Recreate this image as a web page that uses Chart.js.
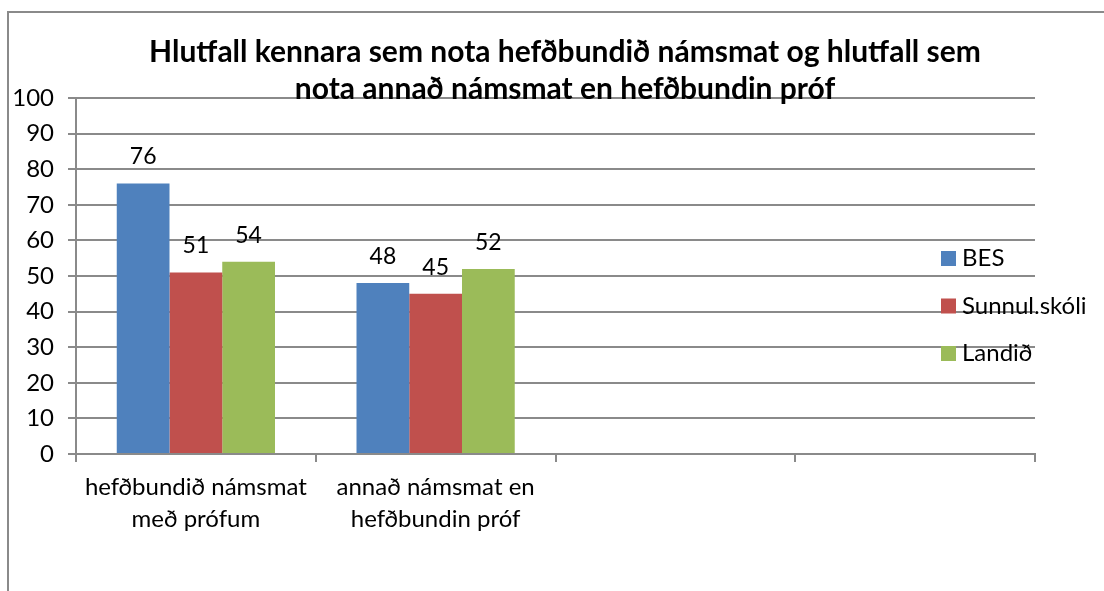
<!DOCTYPE html>
<html>
<head>
<meta charset="utf-8">
<script src="https://cdn.jsdelivr.net/npm/chart.js@4.4.1/dist/chart.umd.min.js"></script>
<style>
  html, body { margin: 0; padding: 0; background: #fff; }
  #wrap { position: relative; width: 1104px; height: 591px; }
  #frame { position: absolute; left: 7px; top: 11px; right: -2px; bottom: -2px; border: 2px solid #8a8a8a; }
  canvas { position: absolute; left: 0; top: 0; }
</style>
</head>
<body>
<div id="wrap">
  <div id="frame"></div>
  <canvas id="chart" width="1104" height="591"></canvas>
</div>
<script>
// Gögn
const categories = [
    ['hefðbundið námsmat', 'með prófum'],
    ['annað námsmat en', 'hefðbundin próf'],
    '',
    ''
];
const seriesNames = ['BES', 'Sunnul.skóli', 'Landið'];
const besValues = [76, 48, null, null];
const sunnulValues = [51, 45, null, null];
const landidValues = [54, 52, null, null];
const seriesColors = ['#4F81BD', '#C0504D', '#9BBB59'];
const titleLines = ['Hlutfall kennara sem nota hefðbundið námsmat og hlutfall sem', 'nota annað námsmat en hefðbundin próf'];

const FONT = 'Lato, "Open Sans", sans-serif';
const GRID = '#8a8a8a';

// gildi fyrir ofan súlur
const valueLabels = {
    id: 'valueLabels',
    afterDatasetsDraw(chart) {
        const ctx = chart.ctx;
        ctx.save();
        ctx.font = '23px ' + FONT;
        ctx.fillStyle = '#000';
        ctx.textAlign = 'center';
        ctx.textBaseline = 'alphabetic';
        chart.data.datasets.forEach((ds, i) => {
            chart.getDatasetMeta(i).data.forEach((bar, j) => {
                if (ds.data[j] == null) return;
                ctx.fillText(String(ds.data[j]), bar.x, bar.y - 19);
            });
        });
        ctx.restore();
    }
};

// titill og skýringar teiknað ofan á
const overlay = {
    id: 'overlay',
    afterDraw(chart) {
        const ctx = chart.ctx;
        ctx.save();
        ctx.fillStyle = '#000';
        ctx.textAlign = 'center';
        ctx.textBaseline = 'alphabetic';
        ctx.font = 'bold 30px ' + FONT;
        ctx.fillText(titleLines[0], 565, 62);
        ctx.fillText(titleLines[1], 565, 99);

        ctx.font = '24px ' + FONT;
        ctx.textAlign = 'left';
        chart.data.datasets.forEach((ds, i) => {
            const top = 251 + i * 47.5;
            ctx.fillStyle = ds.backgroundColor;
            ctx.fillRect(941, top, 15, 15);
            ctx.fillStyle = '#000';
            ctx.fillText(ds.label, 962, top + 15);
        });
        ctx.restore();
    }
};

new Chart(document.getElementById('chart'), {
    type: 'bar',
    data: {
        labels: categories,
        datasets: [
            { label: seriesNames[0], data: besValues, backgroundColor: seriesColors[0] },
            { label: seriesNames[1], data: sunnulValues, backgroundColor: seriesColors[1] },
            { label: seriesNames[2], data: landidValues, backgroundColor: seriesColors[2] }
        ]
    },
    options: {
        responsive: false,
        animation: false,
        maintainAspectRatio: false,
        layout: { padding: { left: 0, right: 69, top: 98, bottom: 0 } },
        datasets: { bar: { categoryPercentage: 0.66, barPercentage: 1.0, borderWidth: 0 } },
        plugins: {
            legend: { display: false },
            title: { display: false },
            tooltip: { enabled: false }
        },
        scales: {
            x: {
                afterFit: s => { s.height = 137; },
                grid: { drawOnChartArea: false, drawTicks: true, tickLength: 8, color: GRID, lineWidth: 2 },
                border: { color: GRID, width: 2 },
                ticks: { color: '#000', font: { family: FONT, size: 24, lineHeight: 1.33 }, padding: 9, maxRotation: 0, autoSkip: false }
            },
            y: {
                min: 0,
                max: 100,
                afterFit: s => { s.width = 76; },
                grid: { color: GRID, lineWidth: 2, tickLength: 8 },
                border: { color: GRID, width: 2 },
                ticks: { stepSize: 10, color: '#000', font: { family: FONT, size: 24 }, padding: 14 }
            }
        }
    },
    plugins: [valueLabels, overlay]
});
</script>
</body>
</html>
